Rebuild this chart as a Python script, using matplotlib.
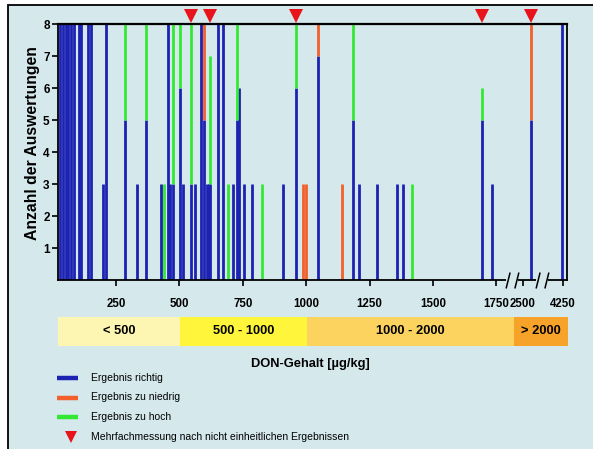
"""Ringversuch DON: Anzahl der Auswertungen je Probe, nach Bewertung gestapelt."""

import matplotlib

matplotlib.use("Agg")
import matplotlib.pyplot as plt
import numpy as np
from matplotlib.lines import Line2D
from matplotlib.patches import Rectangle
from matplotlib.path import Path

plt.rcParams["font.family"] = ["Liberation Sans", "DejaVu Sans"]

# DON-Gehalt der Proben [µg/kg] und Anzahl der Auswertungen je Bewertung
don_values = [29, 40, 51, 62, 73, 84, 102, 113, 141, 151, 198, 212, 285, 333, 370,
              428, 440, 454, 463, 474, 502, 513, 546, 562, 586, 596, 609, 617, 622,
              654, 671, 691, 712, 726, 736, 755, 785, 825, 907, 959, 988, 998, 1048,
              1140, 1185, 1209, 1278, 1360, 1381, 1416, 1693, 1733, 2850, 4200]
n_correct = [8, 8, 8, 8, 8, 8, 8, 8, 8, 8, 3, 8, 5, 3, 5,
             3, 0, 8, 3, 3, 6, 3, 3, 3, 8, 5, 3, 3, 3,
             8, 8, 0, 3, 5, 6, 3, 3, 0, 3, 6, 0, 0, 7,
             0, 5, 3, 3, 3, 3, 0, 5, 3, 5, 8]
n_low = [0, 0, 0, 0, 0, 0, 0, 0, 0, 0, 0, 0, 0, 0, 0,
         0, 0, 0, 0, 0, 0, 0, 0, 0, 0, 3, 0, 0, 0,
         0, 0, 0, 0, 0, 0, 0, 0, 0, 0, 0, 3, 3, 1,
         3, 0, 0, 0, 0, 0, 0, 0, 0, 3, 0]
n_high = [0, 0, 0, 0, 0, 0, 0, 0, 0, 0, 0, 0, 3, 0, 3,
          0, 3, 0, 0, 5, 2, 0, 5, 0, 0, 0, 0, 0, 4,
          0, 0, 3, 0, 3, 0, 0, 0, 3, 0, 2, 0, 0, 0,
          0, 3, 0, 0, 0, 0, 3, 1, 0, 0, 0]
multi_measurement = [546, 622, 959, 1693, 2850]

x_ticks = [250, 500, 750, 1000, 1250, 1500, 1750, 2500, 4250]
y_ticks = [1, 2, 3, 4, 5, 6, 7, 8]
range_edges = [21, 500, 1000, 2000, 4425]
range_labels = ["< 500", "500 - 1000", "1000 - 2000", "> 2000"]
axis_breaks = [1950, 3330]

legend_labels = ["Ergebnis richtig", "Ergebnis zu niedrig", "Ergebnis zu hoch",
                 "Mehrfachmessung nach nicht einheitlichen Ergebnissen"]

BG = "#d5e8ec"
BLUE = "#1c22b2"
RED = "#f2602c"
GREEN = "#33e833"
TRI_RED = "#e8141c"
RANGE_COLORS = ["#fdf6b2", "#fff63c", "#fbd35e", "#f7a32a"]

# gebrochene x-Achse: bis 1800 linear, danach gestaucht
REAL_KNOTS = [-1000, 1800, 2500, 4250, 10000]
AXIS_KNOTS = [-1000, 1800, 1854.3, 2012.1, 2530.8]


def fwd(v):
    return np.interp(v, REAL_KNOTS, AXIS_KNOTS)


def inv(u):
    return np.interp(u, AXIS_KNOTS, REAL_KNOTS)


W, H = 593, 449


def fig_box(left, top, right, bottom):
    return [left / W, 1 - bottom / H, (right - left) / W, (bottom - top) / H]


fig = plt.figure(figsize=(W / 100, H / 100), dpi=100)
fig.patch.set_facecolor("white")
fig.add_artist(Rectangle((8 / W, -0.02), 1.05, 1 - 5 / H + 0.02, transform=fig.transFigure,
                         facecolor=BG, edgecolor="black", lw=1.3, zorder=-10))

ax = fig.add_axes(fig_box(58, 24.3, 566.7, 280))
ax.set_facecolor("none")
ax.set_xscale("function", functions=(fwd, inv))
ax.set_xlim(range_edges[0], range_edges[-1])
ax.set_ylim(0, 8)

x = np.array(don_values)
ok = np.array(n_correct)
low = np.array(n_low)
high = np.array(n_high)

m = ok > 0
ax.vlines(x[m], 0, ok[m], color=BLUE, lw=2.0, capstyle="butt")
m = low > 0
ax.vlines(x[m], ok[m], ok[m] + low[m], color=RED, lw=2.0, capstyle="butt")
m = high > 0
ax.vlines(x[m], ok[m], ok[m] + high[m], color=GREEN, lw=2.0, capstyle="butt")

ax.plot(multi_measurement, [8.25] * len(multi_measurement), "v", ms=10, color=TRI_RED,
        mew=0, clip_on=False, zorder=5)

ax.set_xticks(x_ticks)
ax.set_xticklabels([str(t) for t in x_ticks], fontsize=8.3, fontweight="bold")
ax.set_yticks(y_ticks)
ax.set_yticklabels([str(t) for t in y_ticks], fontsize=8.5, fontweight="bold")
ax.minorticks_off()
ax.tick_params(axis="x", length=4, width=1.2, pad=9)
ax.tick_params(axis="y", length=4.5, width=1.2, pad=1.5)
for sp in ax.spines.values():
    sp.set_linewidth(1.3)
ax.spines["top"].set_linewidth(1.6)

# Achsenbruch-Markierungen "//"
gap = Path([(-1.0, 0.0), (1.0, 0.0)], [Path.MOVETO, Path.LINETO])
slashes = Path([(-1.6, -2), (-0.6, 2), (0.6, -2), (1.6, 2)],
               [Path.MOVETO, Path.LINETO, Path.MOVETO, Path.LINETO])
for b in axis_breaks:
    ax.plot([b], [0], marker=gap, ms=9, mec=BG, mew=3, clip_on=False, zorder=6)
    ax.plot([b], [0], marker=slashes, ms=11.5, mec="black", mew=1.1, clip_on=False, zorder=7)

ax.text(-0.05, 0.535, "Anzahl der Auswertungen", transform=ax.transAxes, rotation=90,
        ha="center", va="center", fontsize=11.3, fontweight="bold")

# Farbband der Gehaltsbereiche
bax = fig.add_axes(fig_box(58, 316.7, 568, 345.7))
bax.set_xscale("function", functions=(fwd, inv))
bax.set_xlim(range_edges[0], range_edges[-1])
bax.set_ylim(0, 1)
bax.axis("off")
for lo, hi, col, lab in zip(range_edges[:-1], range_edges[1:], RANGE_COLORS, range_labels):
    bax.axvspan(lo, hi, color=col, lw=0)
    mid = inv((fwd(lo) + fwd(hi)) / 2)
    bax.text(mid, 0.5, lab, ha="center", va="center", fontsize=9.3, fontweight="bold")

fig.text(310 / W, 1 - 364 / H, "DON-Gehalt [µg/kg]", ha="center", va="center",
         fontsize=9.3, fontweight="bold")

# Legende
rows = [378, 397.5, 417, 437]
for col, lab, ry in zip([BLUE, RED, GREEN], legend_labels[:3], rows[:3]):
    y = 1 - ry / H
    fig.add_artist(Line2D([57 / W, 78 / W], [y, y], color=col, lw=3.2,
                          transform=fig.transFigure, solid_capstyle="butt"))
    fig.text(90.7 / W, y, lab, va="center", fontsize=7.5)
y = 1 - rows[3] / H
fig.add_artist(Line2D([71 / W], [y], marker="v", ms=8, color=TRI_RED, mew=0,
                      transform=fig.transFigure))
fig.text(90.7 / W, y, legend_labels[3], va="center", fontsize=7.5)

fig.savefig("out.png", dpi=100)
